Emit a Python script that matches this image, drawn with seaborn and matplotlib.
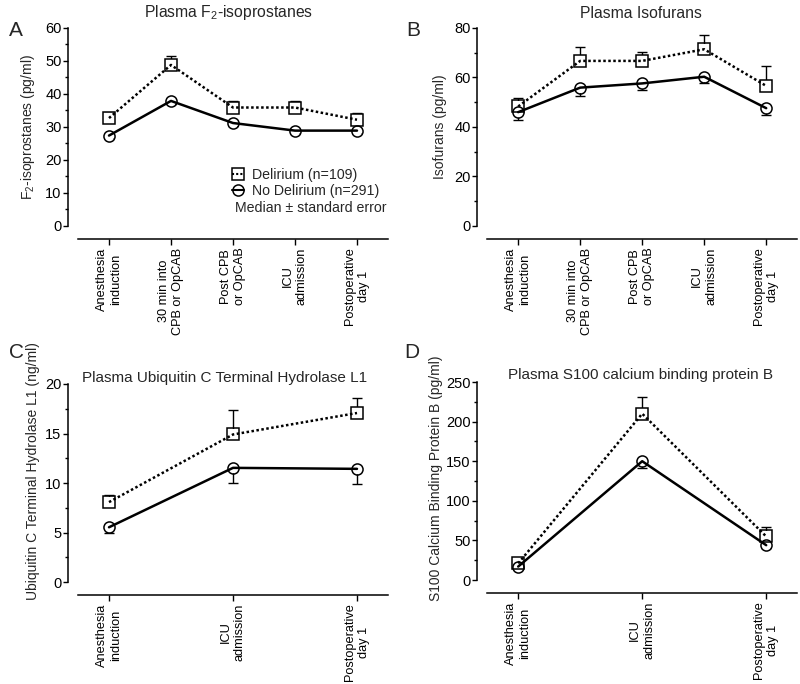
import numpy as np
import pandas as pd
import matplotlib
matplotlib.use("Agg")
import matplotlib.pyplot as plt
from matplotlib.lines import Line2D
from matplotlib.ticker import MultipleLocator
import seaborn as sns

# ── Data ──────────────────────────────────────────────────────────────────────
labels_5 = ["Anesthesia\ninduction", "30 min into\nCPB or OpCAB", "Post CPB\nor OpCAB",
            "ICU\nadmission", "Postoperative\nday 1"]
labels_3 = ["Anesthesia\ninduction", "ICU\nadmission", "Postoperative\nday 1"]

# Panel A: F2-isoprostanes (pg/ml)
f2_delirium = [32.7, 48.8, 35.9, 35.9, 32.2]
f2_delirium_up = [1.6, 2.7, 1.9, 1.9, 1.9]
f2_no_delirium = [27.4, 37.9, 31.2, 28.9, 28.9]
f2_no_delirium_lo = [0.7, 0.9, 0.8, 0.7, 0.8]

# Panel B: Isofurans (pg/ml)
iso_delirium = [48.3, 66.7, 66.7, 71.4, 56.6]
iso_delirium_up = [3.4, 5.8, 3.4, 5.9, 8.0]
iso_no_delirium = [46.0, 55.9, 57.6, 60.3, 47.6]
iso_no_delirium_lo = [3.0, 3.5, 2.8, 2.5, 2.7]

# Panel C: UCH-L1 (ng/ml)
uch_delirium = [8.07, 14.9, 17.07]
uch_delirium_up = [0.73, 2.5, 1.5]
uch_no_delirium = [5.53, 11.53, 11.43]
uch_no_delirium_lo = [0.53, 1.53, 1.53]

# Panel D: S100B (pg/ml)
s100_delirium = [21, 210, 55]
s100_delirium_up = [2, 20.5, 11.5]
s100_no_delirium = [17, 150, 44]
s100_no_delirium_lo = [3, 9, 3]

groups = ["Delirium", "No Delirium"]
legend_labels = ["Delirium (n=109)", "No Delirium (n=291)"]

# ── Style ─────────────────────────────────────────────────────────────────────
sns.set_theme(style="ticks")
plt.rcParams["font.family"] = ["Liberation Sans", "DejaVu Sans"]
plt.rcParams["mathtext.fontset"] = "custom"
plt.rcParams["mathtext.rm"] = "Liberation Sans"
plt.rcParams["mathtext.it"] = "Liberation Sans:italic"
plt.rcParams["font.size"] = 10

MARKERS = {"Delirium": "s", "No Delirium": "o"}
DASHES = {"Delirium": (1, 1), "No Delirium": ""}
MS = 8


def one_sided_err(ax, x, y, err, up):
    lo = np.zeros(len(err))
    yerr = [lo, err] if up else [err, lo]
    _, caps, _ = ax.errorbar(x, y, yerr=yerr, fmt="none", ecolor="black",
                             elinewidth=1.0, capsize=3.8, capthick=1.0, zorder=1)
    for c in caps:
        if np.allclose(c.get_ydata(), y):
            c.set_visible(False)


def draw_panel(ax, labels, dl, dl_up, nd, nd_lo, ymax, major, minor, ylabel):
    x = np.linspace(0, 4, len(labels))
    df = pd.DataFrame({
        "x": np.concatenate([x, x]),
        "value": dl + nd,
        "group": [groups[0]] * len(x) + [groups[1]] * len(x),
    })
    one_sided_err(ax, x, np.array(dl), np.array(dl_up), up=True)
    one_sided_err(ax, x, np.array(nd), np.array(nd_lo), up=False)
    # white mask under the open markers hides the error bar stub
    sns.scatterplot(data=df, x="x", y="value", style="group", markers=MARKERS,
                    color="white", s=MS ** 2, linewidth=0, legend=False, ax=ax, zorder=2)
    sns.lineplot(data=df, x="x", y="value", style="group", markers=MARKERS,
                 dashes=DASHES, color="black", lw=1.8, markersize=MS,
                 mfc="none", mec="black", mew=1.1, legend=False, ax=ax, zorder=3)

    for s in ["top", "right"]:
        ax.spines[s].set_visible(False)
    ax.spines["left"].set_position(("outward", 7.2))
    ax.spines["bottom"].set_position(("outward", 9.5))
    for s in ["left", "bottom"]:
        ax.spines[s].set_linewidth(1.1)
        ax.spines[s].set_color("black")
    ax.tick_params(axis="y", which="major", length=3.6, width=1.0, pad=1,
                   labelsize=10.5, colors="black")
    ax.tick_params(axis="y", which="minor", length=2.2, width=1.0, colors="black")
    ax.tick_params(axis="x", length=4, width=1.0, pad=2, labelsize=9.2, colors="black")

    ax.set_xlim(-0.5, 4.5)
    ax.set_ylim(0, ymax)
    ax.spines["left"].set_bounds(0, ymax)
    ax.set_xticks(x)
    ax.set_xticklabels(labels)
    for t in ax.get_xticklabels():
        t.set_rotation(90)
        t.set_ha("center")
        t.set_va("top")
        t.set_multialignment("center")
    ax.yaxis.set_major_locator(MultipleLocator(major))
    ax.yaxis.set_minor_locator(MultipleLocator(minor))
    ax.set_xlabel("")
    ax.set_ylabel(ylabel, fontsize=10)


fig = plt.figure(figsize=(8, 6.84), dpi=100)
ax_a = fig.add_axes([0.0975, 0.6696, 0.3875, 0.2895])
ax_b = fig.add_axes([0.609, 0.6696, 0.3875, 0.2895])
ax_c = fig.add_axes([0.0975, 0.1491, 0.3875, 0.2895])
ax_d = fig.add_axes([0.609, 0.1520, 0.3875, 0.2895])

draw_panel(ax_a, labels_5, f2_delirium, f2_delirium_up, f2_no_delirium, f2_no_delirium_lo,
           60, 10, 5, "F$_2$-isoprostanes (pg/ml)")
draw_panel(ax_b, labels_5, iso_delirium, iso_delirium_up, iso_no_delirium, iso_no_delirium_lo,
           80, 20, 10, "Isofurans (pg/ml)")
draw_panel(ax_c, labels_3, uch_delirium, uch_delirium_up, uch_no_delirium, uch_no_delirium_lo,
           20, 5, 2.5, "Ubiquitin C Terminal Hydrolase L1 (ng/ml)")
draw_panel(ax_d, labels_3, s100_delirium, s100_delirium_up, s100_no_delirium, s100_no_delirium_lo,
           250, 50, 25, "S100 Calcium Binding Protein B (pg/ml)")

ax_a.yaxis.set_label_coords(-0.132, 0.5)
ax_b.yaxis.set_label_coords(-0.129, 0.5)
ax_c.yaxis.set_label_coords(-0.123, 0.56)
ax_d.yaxis.set_label_coords(-0.142, 0.515)

# Titles
ax_a.text(0.485, 1.08, "Plasma F$_2$-isoprostanes", transform=ax_a.transAxes,
          ha="center", va="center", fontsize=11.3)
ax_b.text(0.497, 1.075, "Plasma Isofurans", transform=ax_b.transAxes,
          ha="center", va="center", fontsize=11.3)
ax_c.text(0.474, 1.03, "Plasma Ubiquitin C Terminal Hydrolase L1", transform=ax_c.transAxes,
          ha="center", va="center", fontsize=11)
ax_d.text(0.494, 1.035, "Plasma S100 calcium binding protein B", transform=ax_d.transAxes,
          ha="center", va="center", fontsize=11)

# Panel letters
for letter, (px, py) in zip("ABCD", [(16, 30), (413, 30), (16, 353), (412, 352)]):
    fig.text(px / 800, 1 - py / 684, letter, fontsize=15, ha="center", va="center")

# Legend (panel A)
handles = [
    Line2D([], [], color="black", marker=MARKERS[g], mfc="none", mec="black", mew=1.1,
           markersize=MS, lw=1.5, dashes=(1, 1) if g == "Delirium" else (None, None))
    for g in groups
]
ax_a.legend(handles, legend_labels, loc="upper left", bbox_to_anchor=(0.475, 0.33),
            frameon=False, handlelength=0.8, handletextpad=0.6, labelspacing=0.15,
            borderpad=0, fontsize=10.2)
ax_a.text(0.507, 0.09, "Median \u00b1 standard error", transform=ax_a.transAxes,
          ha="left", va="center", fontsize=10.2)

fig.savefig("out.png", dpi=100)
